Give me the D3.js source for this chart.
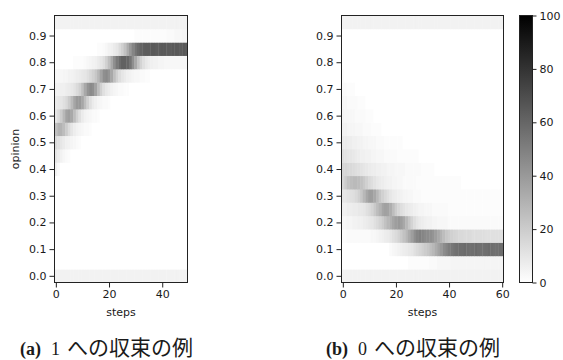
<!DOCTYPE html>
<html>
<head>
<meta charset="utf-8">
<script src="https://cdn.jsdelivr.net/npm/d3@7"></script>
<style>
  body { margin: 0; background: #fff; }
  svg text { font-family: "DejaVu Sans", sans-serif; fill: #1a1a1a; }
</style>
</head>
<body>
<svg id="chart" width="563" height="360"></svg>
<script>
// opinion bins (row centres), axis ticks
const opinionBins = [0.0, 0.05, 0.1, 0.15, 0.2, 0.25, 0.3, 0.35, 0.4, 0.45,
                     0.5, 0.55, 0.6, 0.65, 0.7, 0.75, 0.8, 0.85, 0.9, 0.95];
const opinionTicks = [0.0, 0.1, 0.2, 0.3, 0.4, 0.5, 0.6, 0.7, 0.8, 0.9];
const stepTicksA = [0, 20, 40];
const stepTicksB = [0, 20, 40, 60];
const colorTicks = [0, 20, 40, 60, 80, 100];
const captionA = ["(a)", "1", "への収束の例"];
const captionB = ["(b)", "0", "への収束の例"];

// (a) agents per opinion bin at each step (rows follow opinionBins, steps 0..49)
const countsA = [
  [5,5,5,5,5,5,5,5,5,5,5,5,5,5,5,5,5,5,5,5,5,5,5,5,5,5,5,5,5,5,5,5,5,5,5,5,5,5,5,5,5,5,5,5,5,5,5,5,5,5],
  [0,0,0,0,0,0,0,0,0,0,0,0,0,0,0,0,0,0,0,0,0,0,0,0,0,0,0,0,0,0,0,0,0,0,0,0,0,0,0,0,0,0,0,0,0,0,0,0,0,0],
  [0,0,0,0,0,0,0,0,0,0,0,0,0,0,0,0,0,0,0,0,0,0,0,0,0,0,0,0,0,0,0,0,0,0,0,0,0,0,0,0,0,0,0,0,0,0,0,0,0,0],
  [0,0,0,0,0,0,0,0,0,0,0,0,0,0,0,0,0,0,0,0,0,0,0,0,0,0,0,0,0,0,0,0,0,0,0,0,0,0,0,0,0,0,0,0,0,0,0,0,0,0],
  [0,0,0,0,0,0,0,0,0,0,0,0,0,0,0,0,0,0,0,0,0,0,0,0,0,0,0,0,0,0,0,0,0,0,0,0,0,0,0,0,0,0,0,0,0,0,0,0,0,0],
  [0,0,0,0,0,0,0,0,0,0,0,0,0,0,0,0,0,0,0,0,0,0,0,0,0,0,0,0,0,0,0,0,0,0,0,0,0,0,0,0,0,0,0,0,0,0,0,0,0,0],
  [0,0,0,0,0,0,0,0,0,0,0,0,0,0,0,0,0,0,0,0,0,0,0,0,0,0,0,0,0,0,0,0,0,0,0,0,0,0,0,0,0,0,0,0,0,0,0,0,0,0],
  [0,0,0,0,0,0,0,0,0,0,0,0,0,0,0,0,0,0,0,0,0,0,0,0,0,0,0,0,0,0,0,0,0,0,0,0,0,0,0,0,0,0,0,0,0,0,0,0,0,0],
  [5,2,0,0,0,0,0,0,0,0,0,0,0,0,0,0,0,0,0,0,0,0,0,0,0,0,0,0,0,0,0,0,0,0,0,0,0,0,0,0,0,0,0,0,0,0,0,0,0,0],
  [10,7,5,3,2,1,0,0,0,0,0,0,0,0,0,0,0,0,0,0,0,0,0,0,0,0,0,0,0,0,0,0,0,0,0,0,0,0,0,0,0,0,0,0,0,0,0,0,0,0],
  [15,12,10,8,6,5,4,3,2,1,0,0,0,0,0,0,0,0,0,0,0,0,0,0,0,0,0,0,0,0,0,0,0,0,0,0,0,0,0,0,0,0,0,0,0,0,0,0,0,0],
  [25,30,30,26,20,14,10,7,5,4,3,2,2,1,0,0,0,0,0,0,0,0,0,0,0,0,0,0,0,0,0,0,0,0,0,0,0,0,0,0,0,0,0,0,0,0,0,0,0,0],
  [10,14,20,28,36,38,34,26,18,12,8,5,4,3,2,2,1,0,0,0,0,0,0,0,0,0,0,0,0,0,0,0,0,0,0,0,0,0,0,0,0,0,0,0,0,0,0,0,0,0],
  [8,9,10,12,15,20,27,35,40,40,35,26,18,12,8,6,4,3,2,2,1,0,0,0,0,0,0,0,0,0,0,0,0,0,0,0,0,0,0,0,0,0,0,0,0,0,0,0,0,0],
  [5,5,6,6,7,8,9,11,14,18,25,34,42,46,44,36,26,18,12,9,7,5,4,3,2,2,1,1,0,0,0,0,0,0,0,0,0,0,0,0,0,0,0,0,0,0,0,0,0,0],
  [3,3,3,4,4,5,5,6,7,8,9,10,12,15,18,22,28,36,44,46,42,34,25,18,13,10,8,6,5,4,3,3,2,2,1,1,0,0,0,0,0,0,0,0,0,0,0,0,0,0],
  [0,0,0,0,0,0,0,1,1,1,1,2,3,4,5,6,8,10,13,18,25,34,44,52,58,62,62,60,54,44,34,24,17,12,9,7,6,5,5,4,4,3,3,3,3,3,3,3,3,3],
  [0,0,0,0,0,0,0,0,0,0,0,0,0,0,0,0,1,1,2,3,5,6,8,10,14,18,24,32,40,48,54,58,61,63,64,64,65,65,64,64,65,65,64,64,65,65,65,64,65,64],
  [0,0,0,0,0,0,0,0,0,0,0,0,0,0,0,0,0,0,0,0,0,0,0,0,0,0,0,0,0,0,1,1,1,1,1,1,1,1,1,1,1,1,2,2,2,3,3,3,4,4],
  [5,5,5,5,5,5,5,5,5,5,5,5,5,5,5,5,5,5,5,5,5,5,5,5,5,5,5,5,5,5,5,5,5,5,5,5,5,5,5,5,5,5,5,5,5,5,5,5,5,5]
];

// (b) agents per opinion bin at each step (rows follow opinionBins, steps 0..60)
const countsB = [
  [5,5,5,5,5,5,5,5,5,5,5,5,5,5,5,5,5,5,5,5,5,5,5,5,5,5,5,5,5,5,5,5,5,5,5,5,5,5,5,5,5,5,5,5,5,5,5,5,5,5,5,5,5,5,5,5,5,5,5,5,5],
  [0,0,0,0,0,0,0,0,0,0,0,0,0,0,0,0,0,0,0,0,0,0,0,0,0,1,1,1,1,1,1,1,1,2,2,2,3,3,3,3,3,4,4,4,4,4,4,4,4,4,4,4,4,4,4,4,4,4,4,4,4],
  [0,0,0,0,0,0,0,0,0,0,0,0,0,0,0,0,0,0,2,3,4,5,6,7,8,9,10,12,14,16,18,20,22,25,28,32,36,40,45,48,51,53,55,56,57,57,58,57,56,57,58,57,56,56,57,58,57,56,56,57,57],
  [1,1,2,2,2,2,2,2,2,2,2,3,3,4,5,6,7,8,10,12,14,17,20,24,28,33,38,44,48,50,48,46,45,44,42,38,34,30,26,22,20,18,17,16,15,15,14,14,14,13,13,13,13,13,12,12,12,12,12,12,12],
  [3,3,4,4,5,5,6,6,7,8,9,10,12,14,17,20,24,28,31,35,38,40,38,34,28,22,17,13,10,8,7,6,5,5,4,4,3,3,3,3,2,2,2,2,2,2,2,2,2,2,2,2,2,2,2,2,2,2,2,2,2],
  [6,6,7,7,8,8,9,9,10,12,14,17,21,26,30,35,37,36,32,26,20,16,13,11,9,8,7,6,5,4,4,3,3,3,2,2,2,2,2,2,1,1,1,1,1,1,1,1,1,1,1,1,1,1,1,1,1,1,1,1,1],
  [10,10,11,12,13,15,18,22,28,34,38,38,34,28,22,18,15,12,10,8,7,6,5,4,4,3,3,2,2,2,1,1,1,1,1,1,1,1,1,1,1,1,1,1,1,1,1,1,1,1,1,1,1,1,1,1,1,1,1,1,1],
  [16,20,24,26,27,27,26,24,21,18,15,13,11,9,8,7,6,5,5,4,4,3,3,2,2,2,2,2,1,1,1,1,1,1,1,1,1,1,1,1,1,1,1,1,1,0,0,0,0,0,0,0,0,0,0,0,0,0,0,0,0],
  [16,16,15,15,14,13,12,11,10,9,8,7,7,6,6,5,5,4,4,4,3,3,3,3,2,2,2,2,2,2,1,1,1,1,1,0,0,0,0,0,0,0,0,0,0,0,0,0,0,0,0,0,0,0,0,0,0,0,0,0,0],
  [12,11,10,10,9,8,7,6,6,5,5,4,4,3,3,3,2,2,2,2,2,1,1,1,1,1,1,1,1,0,0,0,0,0,0,0,0,0,0,0,0,0,0,0,0,0,0,0,0,0,0,0,0,0,0,0,0,0,0,0,0],
  [8,8,7,7,6,6,5,5,4,4,3,3,3,2,2,2,1,1,1,1,1,1,1,0,0,0,0,0,0,0,0,0,0,0,0,0,0,0,0,0,0,0,0,0,0,0,0,0,0,0,0,0,0,0,0,0,0,0,0,0,0],
  [5,5,4,4,4,3,3,3,2,2,2,1,1,1,1,0,0,0,0,0,0,0,0,0,0,0,0,0,0,0,0,0,0,0,0,0,0,0,0,0,0,0,0,0,0,0,0,0,0,0,0,0,0,0,0,0,0,0,0,0,0],
  [4,3,3,3,3,2,2,2,2,1,1,1,0,0,0,0,0,0,0,0,0,0,0,0,0,0,0,0,0,0,0,0,0,0,0,0,0,0,0,0,0,0,0,0,0,0,0,0,0,0,0,0,0,0,0,0,0,0,0,0,0],
  [3,3,2,2,2,2,1,1,1,0,0,0,0,0,0,0,0,0,0,0,0,0,0,0,0,0,0,0,0,0,0,0,0,0,0,0,0,0,0,0,0,0,0,0,0,0,0,0,0,0,0,0,0,0,0,0,0,0,0,0,0],
  [2,2,1,1,1,0,0,0,0,0,0,0,0,0,0,0,0,0,0,0,0,0,0,0,0,0,0,0,0,0,0,0,0,0,0,0,0,0,0,0,0,0,0,0,0,0,0,0,0,0,0,0,0,0,0,0,0,0,0,0,0],
  [1,0,0,0,0,0,0,0,0,0,0,0,0,0,0,0,0,0,0,0,0,0,0,0,0,0,0,0,0,0,0,0,0,0,0,0,0,0,0,0,0,0,0,0,0,0,0,0,0,0,0,0,0,0,0,0,0,0,0,0,0],
  [0,0,0,0,0,0,0,0,0,0,0,0,0,0,0,0,0,0,0,0,0,0,0,0,0,0,0,0,0,0,0,0,0,0,0,0,0,0,0,0,0,0,0,0,0,0,0,0,0,0,0,0,0,0,0,0,0,0,0,0,0],
  [0,0,0,0,0,0,0,0,0,0,0,0,0,0,0,0,0,0,0,0,0,0,0,0,0,0,0,0,0,0,0,0,0,0,0,0,0,0,0,0,0,0,0,0,0,0,0,0,0,0,0,0,0,0,0,0,0,0,0,0,0],
  [0,0,0,0,0,0,0,0,0,0,0,0,0,0,0,0,0,0,0,0,0,0,0,0,0,0,0,0,0,0,0,0,0,0,0,0,0,0,0,0,0,0,0,0,0,0,0,0,0,0,0,0,0,0,0,0,0,0,0,0,0],
  [5,5,5,5,5,5,5,5,5,5,5,5,5,5,5,5,5,5,5,5,5,5,5,5,5,5,5,5,5,5,5,5,5,5,5,5,5,5,5,5,5,5,5,5,5,5,5,5,5,5,5,5,5,5,5,5,5,5,5,5,5]
];

const svg = d3.select("#chart");
const binHalf = 0.025;
const labelSize = 11;

// gray_r colormap, 0 = white, 100 = black
const color = d3.scaleLinear().domain([0, 100]).range(["#ffffff", "#000000"]);

const yScale = d3.scaleLinear().domain([-0.025, 0.975]).range([282.5, 15.5]);

function drawPanel(counts, left, right, stepTicks, withYLabel) {
  const nSteps = counts[0].length;
  const x = d3.scaleLinear().domain([-0.5, nSteps - 0.5]).range([left, right]);
  const g = svg.append("g");

  const cells = [];
  counts.forEach((row, i) => {
    row.forEach((v, t) => cells.push({ bin: opinionBins[i], step: t, value: v }));
  });

  g.selectAll("rect.cell")
    .data(cells)
    .join("rect")
    .attr("class", "cell")
    .attr("x", d => x(d.step - 0.5))
    .attr("y", d => yScale(d.bin + binHalf))
    .attr("width", d => x(d.step + 0.5) - x(d.step - 0.5) + 0.4)
    .attr("height", d => yScale(d.bin - binHalf) - yScale(d.bin + binHalf) + 0.4)
    .attr("fill", d => color(d.value));

  // frame
  g.append("rect")
    .attr("x", left).attr("y", 15.5)
    .attr("width", right - left).attr("height", 282.5 - 15.5)
    .attr("fill", "none").attr("stroke", "#222").attr("stroke-width", 1);

  const yAxis = g.append("g")
    .attr("transform", `translate(${left},0)`)
    .call(d3.axisLeft(yScale).tickValues(opinionTicks).tickFormat(d3.format(".1f"))
      .tickSize(5).tickPadding(3));
  const xAxis = g.append("g")
    .attr("transform", `translate(0,282.5)`)
    .call(d3.axisBottom(x).tickValues(stepTicks).tickSize(5).tickPadding(2.5));

  [yAxis, xAxis].forEach(a => {
    a.select(".domain").remove();
    a.selectAll(".tick line").attr("stroke", "#222");
    a.selectAll(".tick text").attr("font-size", labelSize).attr("font-family", "DejaVu Sans").attr("fill", "#1a1a1a");
  });

  g.append("text")
    .attr("x", (left + right) / 2).attr("y", 316)
    .attr("text-anchor", "middle").attr("font-size", labelSize)
    .text("steps");

  if (withYLabel) {
    g.append("text")
      .attr("transform", `translate(19,${(15.5 + 282.5) / 2}) rotate(-90)`)
      .attr("text-anchor", "middle").attr("font-size", labelSize)
      .text("opinion");
  }
}

drawPanel(countsA, 54.5, 187.5, stepTicksA, true);
drawPanel(countsB, 341.5, 503.5, stepTicksB, false);

// colorbar
const cbLeft = 519.5, cbRight = 532.5;
const cScale = d3.scaleLinear().domain([0, 100]).range([282.5, 15.5]);
const defs = svg.append("defs");
const grad = defs.append("linearGradient").attr("id", "cbGrad")
  .attr("x1", 0).attr("y1", 1).attr("x2", 0).attr("y2", 0);
colorTicks.forEach(v => {
  grad.append("stop").attr("offset", v / 100).attr("stop-color", color(v));
});
svg.append("rect")
  .attr("x", cbLeft).attr("y", 15.5)
  .attr("width", cbRight - cbLeft).attr("height", 282.5 - 15.5)
  .attr("fill", "url(#cbGrad)").attr("stroke", "#222").attr("stroke-width", 1);
const cAxis = svg.append("g")
  .attr("transform", `translate(${cbRight},0)`)
  .call(d3.axisRight(cScale).tickValues(colorTicks).tickSize(4).tickPadding(3));
cAxis.select(".domain").remove();
cAxis.selectAll(".tick line").attr("stroke", "#222");
cAxis.selectAll(".tick text").attr("font-size", labelSize).attr("font-family", "DejaVu Sans").attr("fill", "#1a1a1a");

// sub-figure captions
function caption(parts, xPos) {
  const t = svg.append("text").attr("x", xPos).attr("y", 355).attr("font-size", 18);
  t.append("tspan").attr("font-family", "Liberation Serif").attr("font-weight", "bold").text(parts[0]);
  t.append("tspan").attr("font-family", "Liberation Serif").attr("dx", 10).text(parts[1]);
  t.append("tspan").attr("font-family", "Noto Sans CJK JP").attr("dx", 7).attr("font-size", 21).text(parts[2]);
}
caption(captionA, 20);
caption(captionB, 326);
</script>
</body>
</html>
